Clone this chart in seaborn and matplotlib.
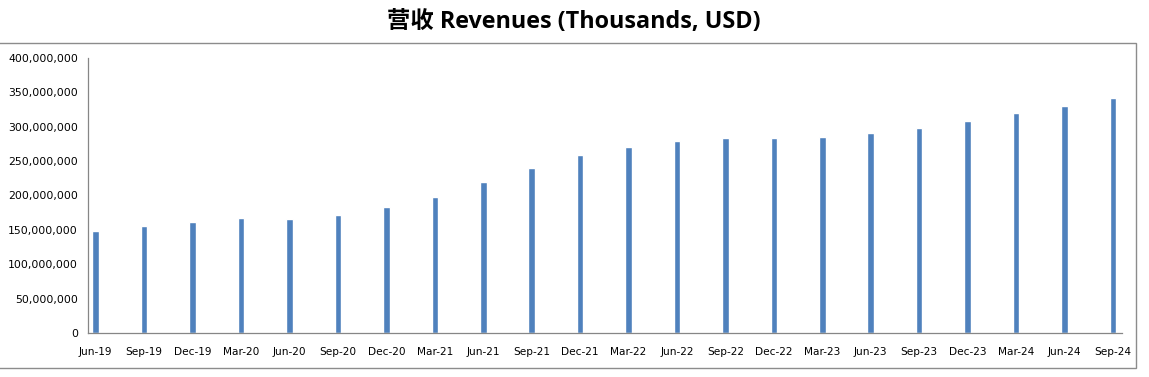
import pandas as pd
import seaborn as sns
import matplotlib.pyplot as plt
from matplotlib.ticker import FuncFormatter, FixedLocator
from matplotlib.patches import Rectangle

# Quarter labels and revenue (values as plotted on the axis)
quarters = ["Jun-19", "Sep-19", "Dec-19", "Mar-20", "Jun-20", "Sep-20", "Dec-20", "Mar-21",
            "Jun-21", "Sep-21", "Dec-21", "Mar-22", "Jun-22", "Sep-22", "Dec-22", "Mar-23",
            "Jun-23", "Sep-23", "Dec-23", "Mar-24", "Jun-24", "Sep-24"]
revenues = [148.2e6, 155.4e6, 161.2e6, 166.9e6, 165.5e6, 171.2e6, 182.7e6, 197.1e6,
            220.1e6, 240.0e6, 259.0e6, 270.7e6, 279.4e6, 283.8e6, 283.5e6, 285.2e6,
            291.0e6, 298.3e6, 308.5e6, 320.0e6, 330.3e6, 341.9e6]
y_ticks = [0, 50e6, 100e6, 150e6, 200e6, 250e6, 300e6, 350e6, 400e6]

df = pd.DataFrame({"Quarter": quarters, "Revenue": revenues})

sns.set_style("white")
plt.rcParams["font.family"] = ["DejaVu Sans", "Noto Sans CJK SC"]

W, H = 1149, 377
fig = plt.figure(figsize=(W / 100, H / 100), dpi=100)
ax = fig.add_axes([87.7 / W, 1 - 333 / H, (1121.7 - 87.7) / W, (333 - 58) / H])

sns.barplot(x="Quarter", y="Revenue", data=df, color="#4F81BD", width=0.135,
            saturation=1, ax=ax)

# date-axis look: tick marks sit a bit left of each bar, labels under the bars
offset = 0.165
ax.set_xlim(-offset, len(quarters) - 1 + 0.18)
ax.set_ylim(0, 400e6)
ax.set_yticks(y_ticks)
ax.yaxis.set_major_formatter(FuncFormatter(lambda v, p: f"{v:,.0f}"))
ax.set_xlabel("")
ax.set_ylabel("")

ax.xaxis.set_minor_locator(FixedLocator([i - offset for i in range(len(quarters))]))
ax.tick_params(axis="x", which="major", length=0, labelsize=7.6, pad=10, labelcolor="#000000")
ax.tick_params(axis="x", which="minor", length=4, width=0.8, color="#868686", direction="out")
ax.tick_params(axis="y", which="major", length=3, width=0.8, color="#868686", direction="out",
               labelsize=7.8, pad=4, labelcolor="#000000")

for side in ["top", "right"]:
    ax.spines[side].set_visible(False)
for side in ["left", "bottom"]:
    ax.spines[side].set_color("#868686")
    ax.spines[side].set_linewidth(0.9)

# chart area border (left edge is cropped in the original)
fig.patches.append(Rectangle((-5 / W, 1 - 367.7 / H), 1141 / W, 325 / H,
                             transform=fig.transFigure, fill=False,
                             edgecolor="#8c8c8c", linewidth=1.0))

fig.text(574 / W, 1 - 22 / H, "营收 Revenues (Thousands, USD)", ha="center", va="center",
         fontsize=16.8, fontweight="bold", color="#000000",
         family=["Open Sans", "Noto Sans CJK SC"])

plt.savefig("out.png", dpi=100)
